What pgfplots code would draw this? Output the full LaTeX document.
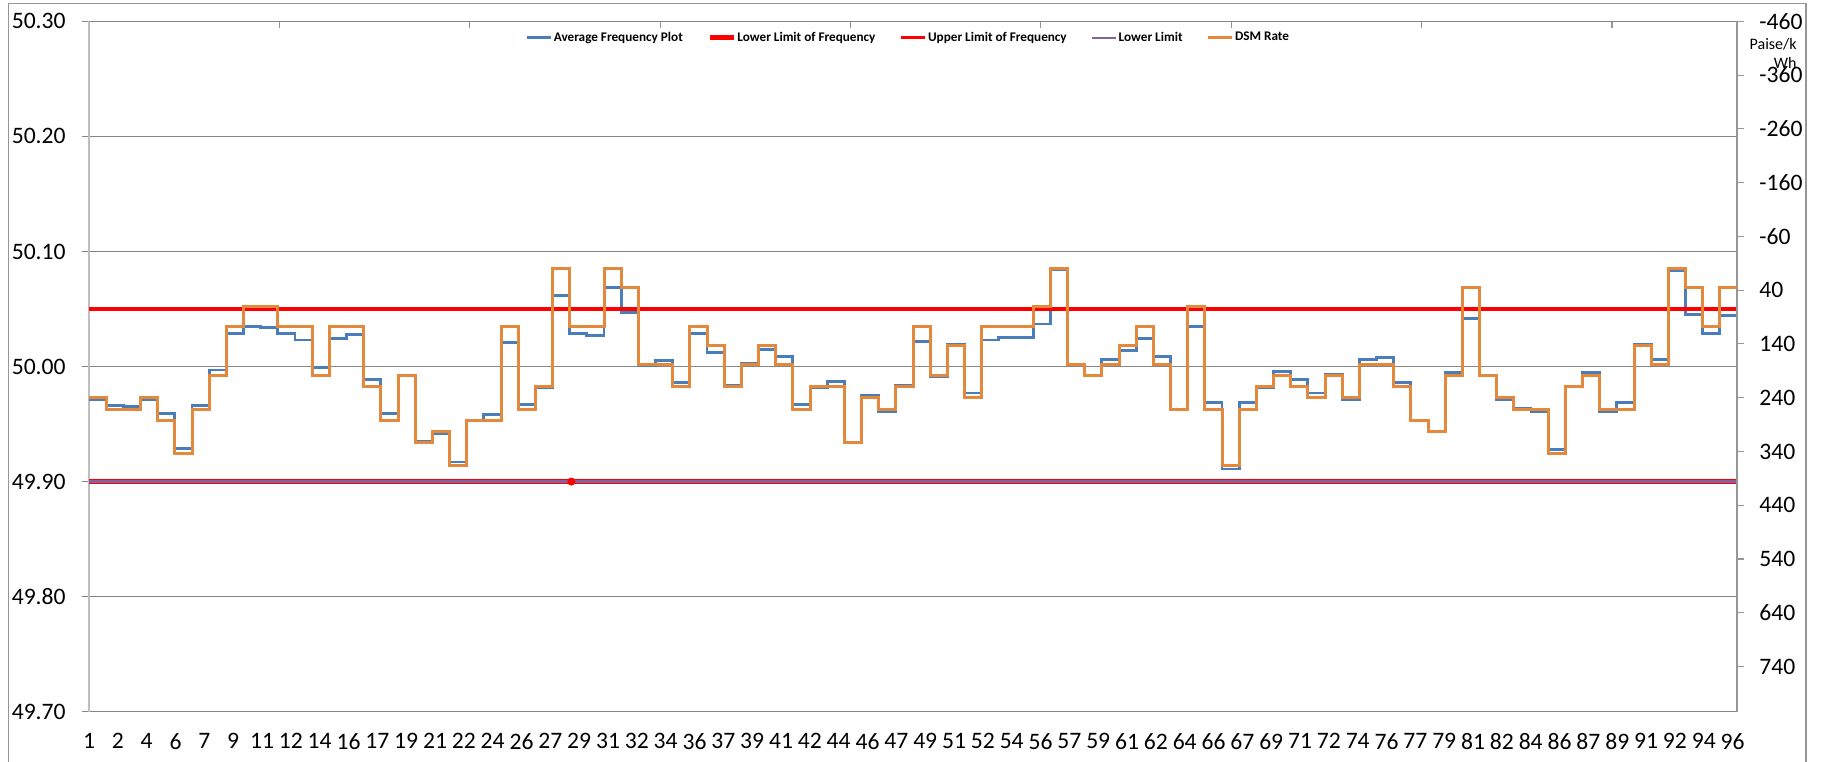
\documentclass[border=0pt]{standalone}
\usepackage{pgfplots}
\pgfplotsset{compat=1.18}
\usepackage{pgfplotstable}
\usepackage{fontspec}
\setmainfont{Carlito}
\definecolor{freqblue}{RGB}{74,126,187}
\definecolor{dsmorange}{RGB}{228,137,60}
\definecolor{limpurple}{RGB}{128,100,162}
\definecolor{gridgray}{RGB}{134,134,134}
\definecolor{axisgray}{RGB}{150,150,150}
\definecolor{lightaxis}{RGB}{190,190,190}

% x = start of the 15-min block (block number - 1), f = average frequency (Hz), r = DSM rate (paise/kWh)
\pgfplotstableread{
x f r
0 49.971 240.52
1 49.966 261.36
2 49.965 261.36
3 49.971 240.52
4 49.959 282.2
5 49.929 344.72
6 49.966 261.36
7 49.997 198.84
8 50.029 106.8
9 50.035 71.2
10 50.034 71.2
11 50.029 106.8
12 50.023 106.8
13 49.999 198.84
14 50.024 106.8
15 50.028 106.8
16 49.989 219.68
17 49.959 282.2
18 49.992 198.84
19 49.935 323.88
20 49.942 303.04
21 49.917 365.56
22 49.953 282.2
23 49.958 282.2
24 50.021 106.8
25 49.967 261.36
26 49.982 219.68
27 50.062 0
28 50.029 106.8
29 50.027 106.8
30 50.069 0
31 50.047 35.6
32 50.001 178
33 50.005 178
34 49.986 219.68
35 50.029 106.8
36 50.012 142.4
37 49.984 219.68
38 50.003 178
39 50.015 142.4
40 50.009 178
41 49.967 261.36
42 49.982 219.68
43 49.987 219.68
44 49.934 323.88
45 49.975 240.52
46 49.961 261.36
47 49.984 219.68
48 50.022 106.8
49 49.991 198.84
50 50.019 142.4
51 49.977 240.52
52 50.023 106.8
53 50.025 106.8
54 50.025 106.8
55 50.037 71.2
56 50.084 0
57 50.002 178
58 49.992 198.84
59 50.006 178
60 50.014 142.4
61 50.024 106.8
62 50.009 178
63 49.963 261.36
64 50.035 71.2
65 49.969 261.36
66 49.911 365.56
67 49.969 261.36
68 49.982 219.68
69 49.996 198.84
70 49.989 219.68
71 49.977 240.52
72 49.993 198.84
73 49.971 240.52
74 50.006 178
75 50.008 178
76 49.986 219.68
77 49.953 282.2
78 49.943 303.04
79 49.995 198.84
80 50.042 35.6
81 49.992 198.84
82 49.971 240.52
83 49.964 261.36
84 49.961 261.36
85 49.928 344.72
86 49.983 219.68
87 49.995 198.84
88 49.961 261.36
89 49.969 261.36
90 50.019 142.4
91 50.006 178
92 50.083 0
93 50.045 35.6
94 50.029 106.8
95 50.044 35.6
96 50.044 35.6
}\data

\begin{document}
\begin{tikzpicture}
\useasboundingbox (0,0) rectangle (913.5bp,381bp);
\draw[axisgray, line width=0.6bp] (4.35bp,-2bp) -- (4.35bp,379.35bp) -- (903bp,379.35bp) -- (903bp,-2bp);

\begin{axis}[
  at={(44.5bp,25.15bp)}, anchor=south west,
  width=824bp, height=345.2bp, scale only axis,
  xmin=0, xmax=96, ymin=49.70, ymax=50.30,
  axis x line*=bottom, axis y line*=left,
  x axis line style={draw=gridgray, line width=0.6bp, -},
  y axis line style={draw=lightaxis, line width=0.9bp, -},
  ytick={49.7,49.8,49.9,50,50.1,50.2,50.3},
  yticklabels={49.70,49.80,49.90,50.00,50.10,50.20,50.30},
  ymajorgrids, grid style={gridgray, line width=0.55bp},
  tick align=inside, major tick length=3.5bp,
  y tick style={draw=gridgray, line width=0.55bp, xshift=-3.5bp},
  x tick style={draw=none},
  xtick={0,1.6797,...,96},
  xticklabels={1,2,4,6,7,9,11,12,14,16,17,19,21,22,24,26,27,29,31,32,34,36,37,39,41,42,44,46,47,49,51,52,54,56,57,59,61,62,64,66,67,69,71,72,74,76,77,79,81,82,84,86,87,89,91,92,94,96},
  xticklabel style={anchor=north, inner sep=0pt, yshift=-10.7bp},
  yticklabel style={anchor=east, inner sep=0pt, xshift=-11.5bp},
  tick label style={font=\fontsize{11.8bp}{14bp}\selectfont},
  legend style={at={(0.497,0.976)}, anchor=center, draw=none, fill=none,
    legend columns=-1, font=\bfseries\fontsize{6.6bp}{7.8bp}\selectfont,
    /tikz/every even column/.append style={column sep=11.5bp},
    inner sep=0pt, nodes={inner sep=0.6bp}},
  legend image code/.code={\draw[#1] (0bp,0bp) -- (12bp,0bp);},
]
\addplot[const plot, freqblue, line width=1.4bp] table[x=x, y=f] {\data};
\addlegendentry{Average Frequency Plot}
\addplot[red, line width=2.6bp] coordinates {(0,49.9) (96,49.9)};
\addlegendentry{Lower Limit of Frequency}
\addplot[red, line width=1.6bp] coordinates {(0,50.05) (96,50.05)};
\addlegendentry{Upper Limit of Frequency}
\addplot[limpurple, line width=1.3bp] coordinates {(0,49.9) (96,49.9)};
\addlegendentry{Lower Limit}
\addplot[only marks, mark=*, red, mark size=1.8bp, forget plot] coordinates {(28.1,49.9)};
\addlegendimage{dsmorange, line width=1.5bp}
\addlegendentry{DSM Rate}
\end{axis}

\begin{axis}[
  at={(44.5bp,25.15bp)}, anchor=south west,
  width=824bp, height=345.2bp, scale only axis,
  xmin=0, xmax=96, ymin=-460, ymax=824.04, y dir=reverse,
  axis x line*=top, axis y line*=right,
  x axis line style={draw=gridgray, line width=0.6bp, -},
  y axis line style={draw=axisgray, line width=0.7bp, -},
  tick align=inside, major tick length=3.5bp,
  xtick={11.09,22.18,33.27,44.36,55.45,66.54,77.63,88.72},
  xticklabels={},
  x tick style={draw=axisgray, line width=0.55bp},
  ytick={-460,-360,-260,-160,-60,40,140,240,340,440,540,640,740},
  yticklabels={-460,-360,-260,-160,-60,40,140,240,340,440,540,640,740},
  y tick style={draw=axisgray, line width=0.55bp, xshift=3.5bp},
  yticklabel style={anchor=west, inner sep=0pt, xshift=11bp},
  tick label style={font=\fontsize{11.8bp}{14bp}\selectfont},
]
\addplot[const plot, dsmorange, line width=1.5bp] table[x=x, y=r] {\data};
\end{axis}

\node[font=\fontsize{8bp}{9.5bp}\selectfont, align=right, anchor=north east, inner sep=0pt] at (898.5bp,362bp) {Paise/k\\Wh};
\end{tikzpicture}
\end{document}
